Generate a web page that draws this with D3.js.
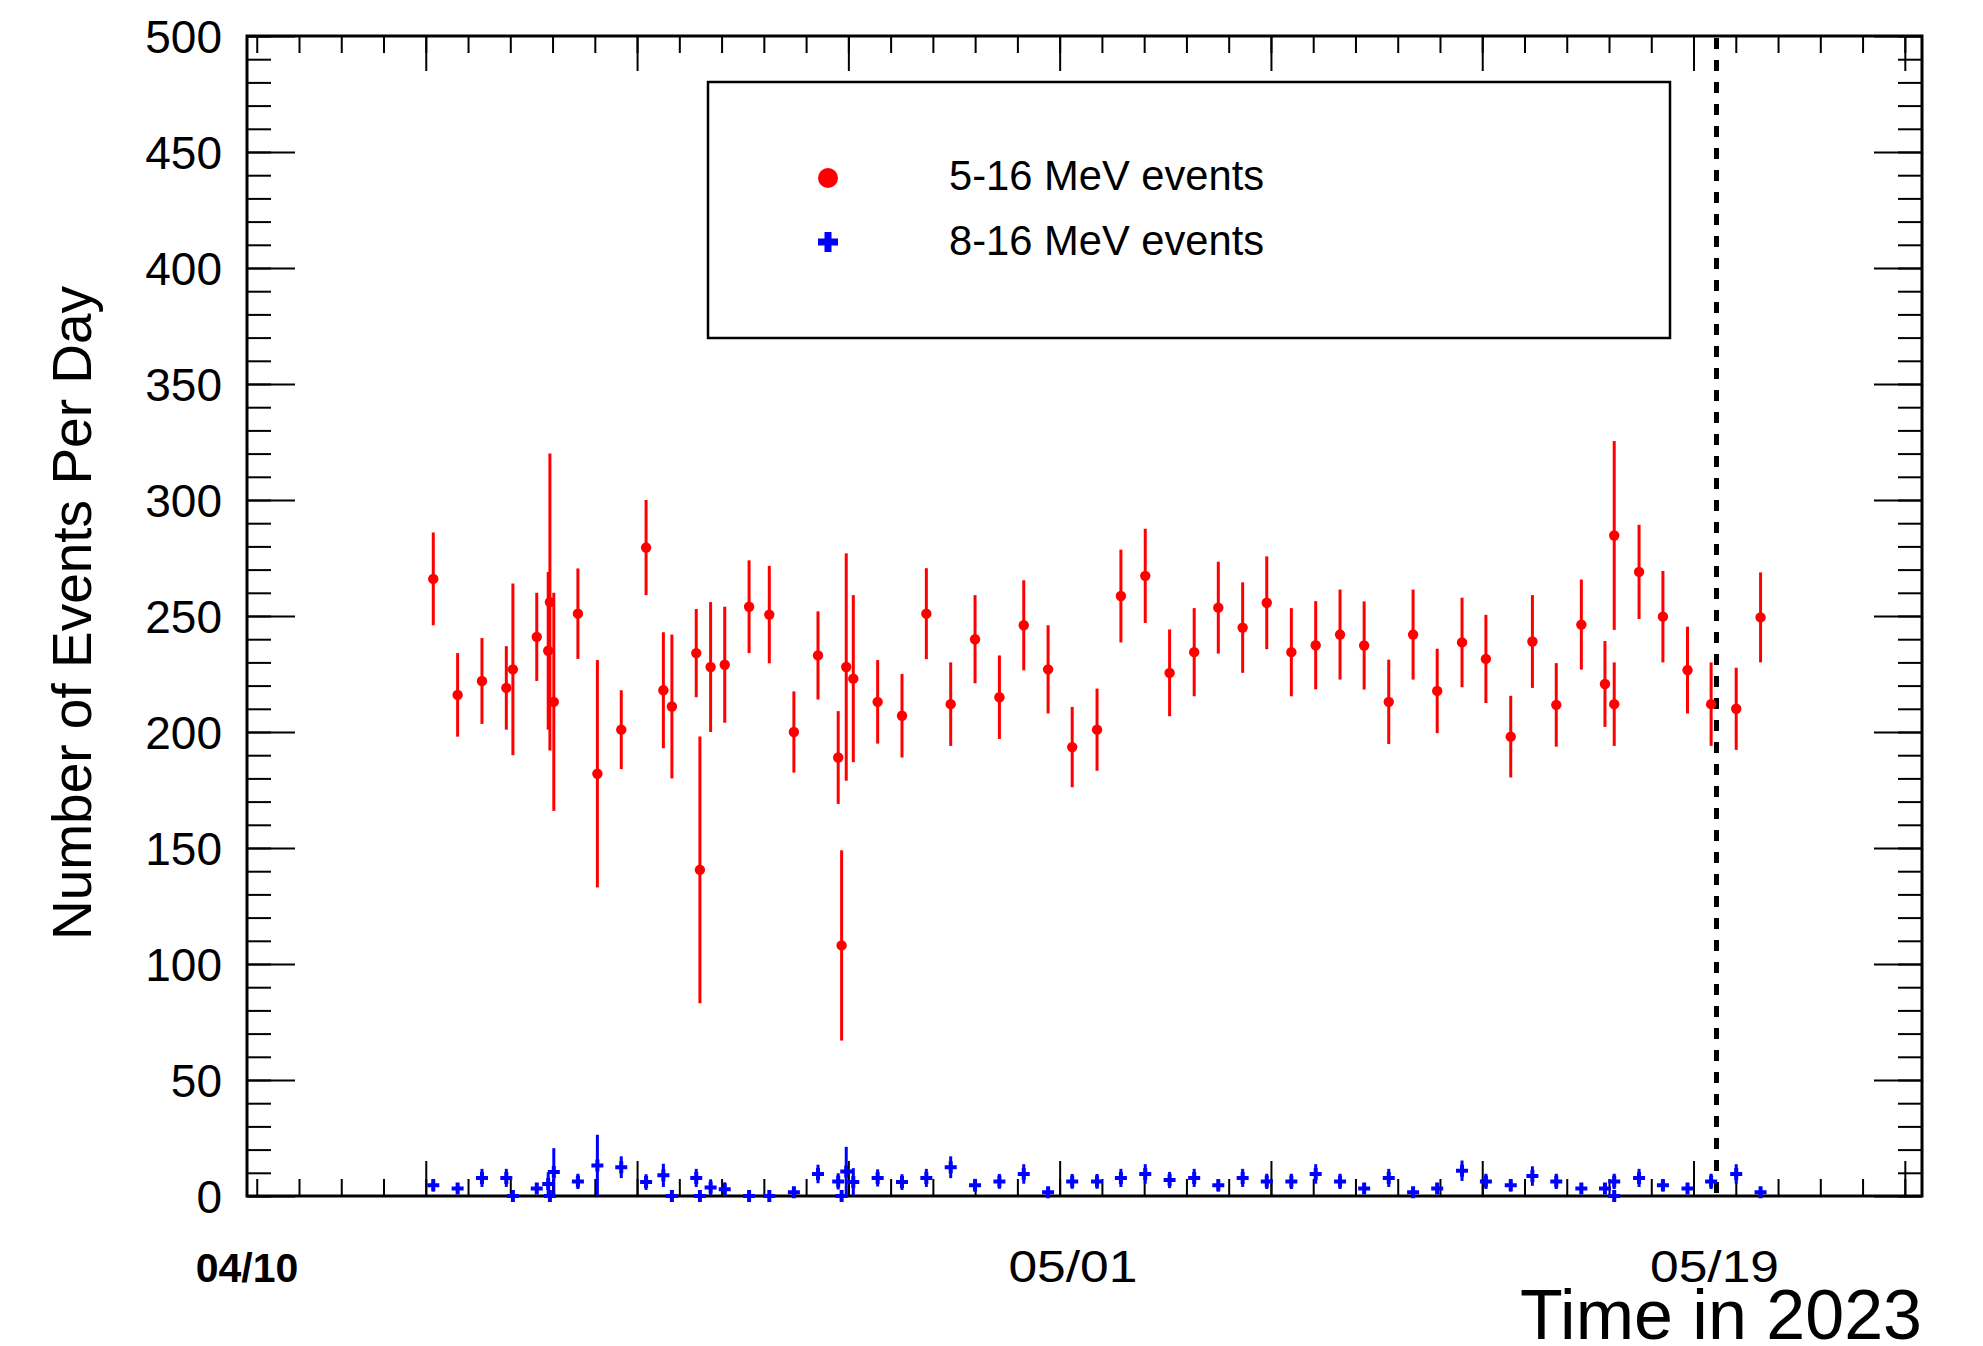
<!DOCTYPE html>
<html>
<head>
<meta charset="utf-8">
<script src="https://cdn.jsdelivr.net/npm/d3@7"></script>
<style>
  body { margin: 0; background: #fff; }
  svg { display: block; font-family: "Liberation Sans", Arial, Helvetica, sans-serif; }
</style>
</head>
<body>
<svg width="1983" height="1346"></svg>
<script>
// Day offsets (from 04/10) of each daily point, shared by both series
var days = [7.65, 8.65, 9.65, 10.65, 10.92, 11.90, 12.37, 12.44, 12.60, 13.59,
            14.39, 15.37, 16.39, 17.10, 17.45, 18.45, 18.60, 19.04, 19.62, 20.62,
            21.45, 22.46, 23.45, 24.28, 24.42, 24.61, 24.90, 25.90, 26.90, 27.90,
            28.90, 29.90, 30.90, 31.90, 32.90, 33.89, 34.91, 35.89, 36.89, 37.89,
            38.90, 39.89, 40.89, 41.88, 42.89, 43.89, 44.89, 45.88, 46.89, 47.89,
            48.88, 49.90, 50.88, 51.90, 52.79, 53.77, 54.80, 55.77, 56.15, 56.15,
            57.17, 58.15, 59.16, 60.13, 61.16, 62.16];

// 5-16 MeV events per day and errors
var red = [266, 216, 222, 219, 227, 241, 235, 256, 213, 251,
           182, 201, 279.5, 218, 211, 234, 140.6, 228, 229, 254,
           250.6, 200, 233, 189, 108, 228, 223, 213, 207, 251,
           212, 240, 215, 246, 227, 193.5, 201, 258.6, 267.3, 225.5,
           234.4, 253.6, 245, 255.7, 234.4, 237.4, 242, 237.3, 213, 242,
           217.7, 238.6, 231.5, 198, 239, 211.7, 246.3, 220.7, 284.7, 212,
           269, 249.7, 226.7, 212, 210, 249.4];
var redErr = [20, 18, 18.5, 18, 37, 19, 34, 64, 47, 19.5,
              49, 17, 20.5, 25, 31, 19, 57.5, 28, 25, 20,
              21, 17.5, 19, 20, 41, 49, 36, 18, 18, 19.6,
              18, 19, 18, 19.4, 19, 17.3, 17.7, 20, 20.3, 18.7,
              19, 19.8, 19.5, 20, 19, 19, 19.4, 19, 18.2, 19.4,
              18.2, 19.3, 19, 17.6, 20, 18, 19.4, 18.5, 40.7, 18,
              20.3, 19.7, 18.7, 18, 17.7, 19.4];

// 8-16 MeV events per day and errors
var blue = [4.6, 3.2, 7.8, 7.8, 0, 3.2, 5.2, 0, 10.3, 6.3,
            13.2, 12.4, 6.0, 8.9, 0, 7.8, 0, 3.7, 2.9, 0,
            0, 1.6, 9.5, 6.3, 0, 10.6, 6.0, 7.8, 6.0, 7.8,
            12.4, 4.6, 6.3, 9.5, 1.6, 6.3, 6.3, 7.8, 9.5, 6.9,
            7.8, 4.6, 7.8, 6.3, 6.3, 9.5, 6.3, 3.2, 7.8, 1.6,
            3.2, 10.9, 6.3, 4.6, 8.6, 6.3, 3.2, 3.2, 0, 6.3,
            7.8, 4.6, 3.2, 6.3, 9.5, 1.6];
var blueErr = [2.7, 2.2, 3.9, 3.9, 0, 2.2, 5, 0, 10.3, 3.3,
               13.2, 4.7, 3.4, 5, 0, 3.9, 0, 3.5, 3, 0,
               0, 2, 4, 3.5, 0, 10.6, 6, 3.7, 3.4, 3.9,
               4.7, 2.8, 3.2, 4.2, 2, 3.2, 3.2, 3.9, 4.2, 3.5,
               3.9, 2.7, 3.9, 3.3, 3.3, 4.2, 3.3, 2.2, 3.9, 2,
               2.2, 4.4, 3.3, 2.7, 4.2, 3.3, 2.2, 2.2, 0, 3.3,
               3.9, 2.7, 2.2, 3.3, 4.2, 2];

// date labels under the axis, and the marked day (dashed line)
var dateLabels = ["04/10", "05/01", "05/19"];
var dateDays = [0, 33.92, 60.27];
var markDay = 60.35;

var yMajor = d3.range(0, 501, 50),
    yMinor = d3.range(0, 501, 10);
// ROOT time axis divisions (in days)
var xMinor = d3.range(40).map(function(k){ return 0.4 + k * 1.7355; }),
    xMajor = xMinor.filter(function(d, k){ return k % 5 == 4; });

// frame edges (note: "top" is taken by window.top)
var fL = 247, fR = 1922, fT = 36, fB = 1196;
var svg = d3.select("svg");

var x = d3.scaleLinear().domain([0, 68.79]).range([fL, fR]),
    y = d3.scaleLinear().domain([0, 500]).range([fB, fT]);

function tickAxis(axis, tx, ty, size, values) {
  var g = svg.append("g")
      .attr("transform", "translate(" + tx + "," + ty + ")")
      .call(axis.tickValues(values).tickSize(size).tickFormat(""));
  g.select(".domain").remove();
  g.selectAll(".tick line").attr("stroke", "#000").attr("stroke-width", 2);
}

// inward ticks on all four sides
tickAxis(d3.axisRight(y), fL, 0, 48, yMajor);
tickAxis(d3.axisRight(y), fL, 0, 24, yMinor);
tickAxis(d3.axisLeft(y), fR, 0, 48, yMajor);
tickAxis(d3.axisLeft(y), fR, 0, 24, yMinor);
tickAxis(d3.axisTop(x), 0, fB, 35, xMajor);
tickAxis(d3.axisTop(x), 0, fB, 17, xMinor);
tickAxis(d3.axisBottom(x), 0, fT, 35, xMajor);
tickAxis(d3.axisBottom(x), 0, fT, 17, xMinor);

// y labels
var yl = svg.append("g")
    .attr("transform", "translate(" + fL + ",0)")
    .call(d3.axisLeft(y).tickValues(yMajor).tickSize(0).tickPadding(25));
yl.select(".domain").remove();
yl.selectAll("text")
    .attr("font-family", "Liberation Sans, Arial, sans-serif")
    .attr("font-size", 46)
    .attr("fill", "#000")
    .attr("dy", "0.36em");

// frame
svg.append("rect")
    .attr("x", fL).attr("y", fT)
    .attr("width", fR - fL).attr("height", fB - fT)
    .attr("fill", "none").attr("stroke", "#000").attr("stroke-width", 3);

// date labels
svg.selectAll(".date")
  .data(dateLabels)
  .enter().append("text")
    .attr("class", "date")
    .attr("x", function(d, i){ return x(dateDays[i]); })
    .attr("y", 1282)
    .attr("text-anchor", "middle")
    .attr("font-size", function(d, i){ return i == 0 ? 41 : 44; })
    .attr("font-weight", function(d, i){ return i == 0 ? "bold" : "normal"; })
    .attr("textLength", function(d, i){ return i == 0 ? null : 129; })
    .attr("lengthAdjust", "spacingAndGlyphs")
    .text(function(d){ return d; });

// axis titles
svg.append("text")
    .attr("x", fR).attr("y", 1339)
    .attr("text-anchor", "end")
    .attr("font-size", 70)
    .text("Time in 2023");

svg.append("text")
    .attr("transform", "translate(91,613) rotate(-90)")
    .attr("text-anchor", "middle")
    .attr("font-size", 55)
    .text("Number of Events Per Day");

// dashed marker line
svg.append("line")
    .attr("x1", x(markDay)).attr("x2", x(markDay))
    .attr("y1", fT + 2).attr("y2", fB)
    .attr("stroke", "#000").attr("stroke-width", 5)
    .attr("stroke-dasharray", "11,11");

// 8-16 MeV series: error bars + crosses
var bluePts = days.map(function(d, i){ return {d: d, v: blue[i], e: blueErr[i]}; });
svg.append("g").selectAll("line")
  .data(bluePts.filter(function(p){ return p.e > 0; }))
  .enter().append("line")
    .attr("x1", function(p){ return x(p.d); })
    .attr("x2", function(p){ return x(p.d); })
    .attr("y1", function(p){ return y(Math.max(0, p.v - p.e)); })
    .attr("y2", function(p){ return y(p.v + p.e); })
    .attr("stroke", "#0000ff").attr("stroke-width", 3);
svg.append("g").selectAll("path")
  .data(bluePts)
  .enter().append("path")
    .attr("transform", function(p){ return "translate(" + x(p.d) + "," + y(p.v) + ")"; })
    .attr("d", "M-6,0H6M0,-6V6")
    .attr("stroke", "#0000ff").attr("stroke-width", 4);

// 5-16 MeV series: error bars + dots
var redPts = days.map(function(d, i){ return {d: d, v: red[i], e: redErr[i]}; });
svg.append("g").selectAll("line")
  .data(redPts)
  .enter().append("line")
    .attr("x1", function(p){ return x(p.d); })
    .attr("x2", function(p){ return x(p.d); })
    .attr("y1", function(p){ return y(p.v - p.e); })
    .attr("y2", function(p){ return y(p.v + p.e); })
    .attr("stroke", "#ff0000").attr("stroke-width", 3);
svg.append("g").selectAll("circle")
  .data(redPts)
  .enter().append("circle")
    .attr("cx", function(p){ return x(p.d); })
    .attr("cy", function(p){ return y(p.v); })
    .attr("r", 5.2)
    .attr("fill", "#ff0000");

// legend
var lg = svg.append("g");
lg.append("rect")
    .attr("x", 708).attr("y", 82)
    .attr("width", 962).attr("height", 256)
    .attr("fill", "#fff").attr("stroke", "#000").attr("stroke-width", 2.5);
lg.append("circle")
    .attr("cx", 828).attr("cy", 178).attr("r", 10)
    .attr("fill", "#ff0000");
lg.append("path")
    .attr("transform", "translate(828,242)")
    .attr("d", "M-10,0H10M0,-10V10")
    .attr("stroke", "#0000ff").attr("stroke-width", 7);
lg.selectAll(".lt")
  .data(["5-16 MeV events", "8-16 MeV events"])
  .enter().append("text")
    .attr("x", 949)
    .attr("y", function(d, i){ return i == 0 ? 190 : 255; })
    .attr("font-size", 41.7)
    .text(function(d){ return d; });
</script>
</body>
</html>
